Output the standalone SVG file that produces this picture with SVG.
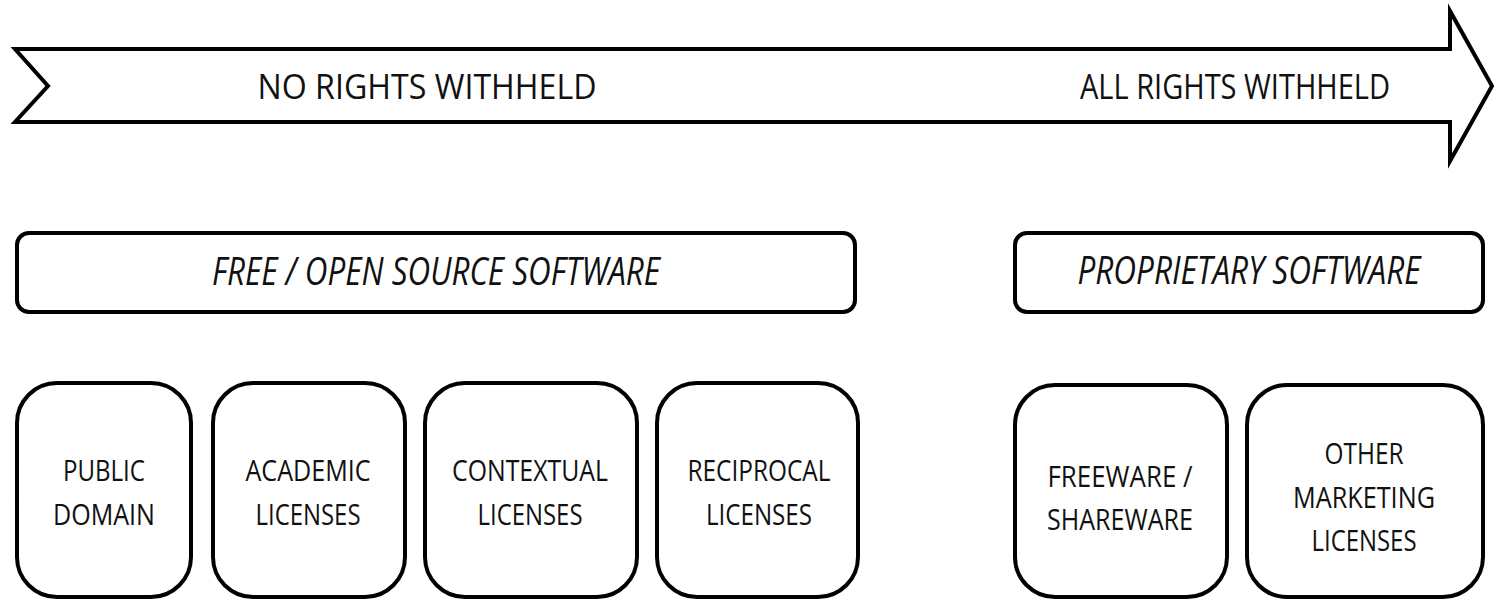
<svg xmlns="http://www.w3.org/2000/svg" width="1494" height="600" viewBox="0 0 1494 600">
<style>
.s{fill:#fff;stroke:#000;stroke-width:4}
.t{font-family:"Open Sans","Noto Sans",sans-serif;fill:#111;text-anchor:middle}
.b{font-size:30px}
.h{font-size:35px}
.i{font-size:38px;font-style:italic}
</style>
<rect width="1494" height="600" fill="#fff"/>
<g id="arrow">
<path class="s" d="M15,49 L1450,49 L1450,11 L1492,86 L1450,161 L1450,122 L15,122 L48,86 Z" stroke-linejoin="miter"/>
<text class="t h" x="427" y="99" textLength="339" lengthAdjust="spacingAndGlyphs">NO RIGHTS WITHHELD</text>
<text class="t h" x="1235" y="99" textLength="310" lengthAdjust="spacingAndGlyphs">ALL RIGHTS WITHHELD</text>
</g>
<g id="foss">
<rect class="s" x="17" y="233" width="838" height="79" rx="12"/>
<text class="t i" x="436" y="285" textLength="448" lengthAdjust="spacingAndGlyphs">FREE / OPEN SOURCE SOFTWARE</text>
</g>
<g id="proprietary">
<rect class="s" x="1015" y="233" width="468" height="79" rx="12"/>
<text class="t i" x="1249" y="284" textLength="343" lengthAdjust="spacingAndGlyphs">PROPRIETARY SOFTWARE</text>
</g>
<g id="public-domain">
<rect class="s" x="17" y="383" width="174" height="214" rx="40"/>
<text class="t b" x="104" y="481" textLength="82" lengthAdjust="spacingAndGlyphs">PUBLIC</text>
<text class="t b" x="104" y="525" textLength="102" lengthAdjust="spacingAndGlyphs">DOMAIN</text>
</g>
<g id="academic">
<rect class="s" x="213" y="383" width="192" height="214" rx="40"/>
<text class="t b" x="308" y="481" textLength="125" lengthAdjust="spacingAndGlyphs">ACADEMIC</text>
<text class="t b" x="308" y="525" textLength="105" lengthAdjust="spacingAndGlyphs">LICENSES</text>
</g>
<g id="contextual">
<rect class="s" x="425" y="383" width="212" height="214" rx="40"/>
<text class="t b" x="530" y="481" textLength="156" lengthAdjust="spacingAndGlyphs">CONTEXTUAL</text>
<text class="t b" x="530" y="525" textLength="105" lengthAdjust="spacingAndGlyphs">LICENSES</text>
</g>
<g id="reciprocal">
<rect class="s" x="657" y="383" width="201" height="214" rx="40"/>
<text class="t b" x="759" y="481" textLength="143" lengthAdjust="spacingAndGlyphs">RECIPROCAL</text>
<text class="t b" x="759" y="525" textLength="106" lengthAdjust="spacingAndGlyphs">LICENSES</text>
</g>
<g id="freeware">
<rect class="s" x="1015" y="385" width="212" height="212" rx="40"/>
<text class="t b" x="1120" y="487" textLength="145" lengthAdjust="spacingAndGlyphs">FREEWARE /</text>
<text class="t b" x="1120" y="530" textLength="146" lengthAdjust="spacingAndGlyphs">SHAREWARE</text>
</g>
<g id="other-marketing">
<rect class="s" x="1247" y="385" width="236" height="212" rx="40"/>
<text class="t b" x="1364" y="464" textLength="79" lengthAdjust="spacingAndGlyphs">OTHER</text>
<text class="t b" x="1364" y="508" textLength="142" lengthAdjust="spacingAndGlyphs">MARKETING</text>
<text class="t b" x="1364" y="551" textLength="105" lengthAdjust="spacingAndGlyphs">LICENSES</text>
</g>
<g id="connectors"></g>
</svg>
